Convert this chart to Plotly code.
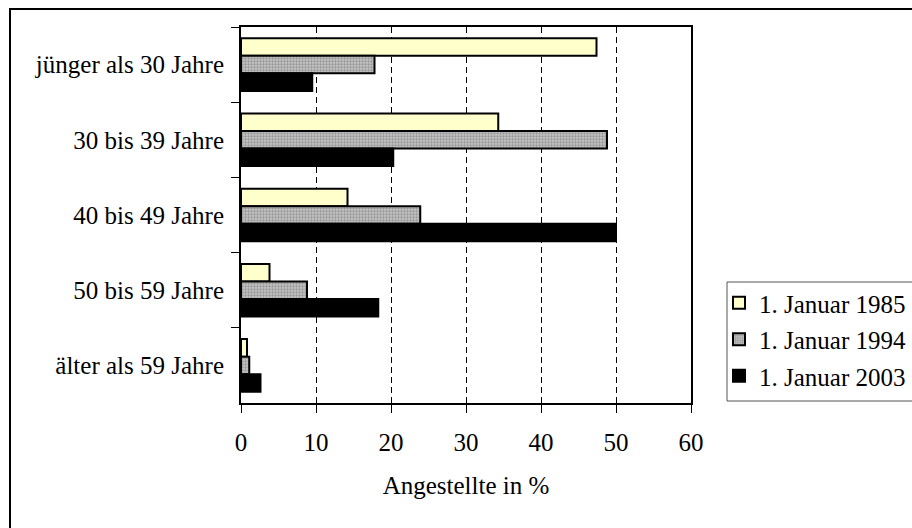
import plotly.graph_objects as go

categories = ["jünger als 30 Jahre", "30 bis 39 Jahre", "40 bis 49 Jahre",
              "50 bis 59 Jahre", "älter als 59 Jahre"]
series_names = ["1. Januar 1985", "1. Januar 1994", "1. Januar 2003"]
values_1985 = [47.4, 34.3, 14.2, 3.8, 0.8]
values_1994 = [17.8, 48.8, 23.9, 8.8, 1.1]
values_2003 = [9.5, 20.3, 50.0, 18.3, 2.6]
x_ticks = [0, 10, 20, 30, 40, 50, 60]

FONT = "Liberation Serif, Times New Roman, serif"
FS = 25
W, H = 912, 528
L, R, T, B = 241, 221, 27, 125
PW, PH = W - L - R, H - T - B


def px_x(p):
    return (p - L) / PW


def px_y(p):
    return 1 - (p - T) / PH


fig = go.Figure()
styles = [
    dict(color="#FFFFCC"),
    dict(color="#A0A0A0", pattern=dict(shape=".", fgcolor="#6a6a6a", bgcolor="#c4c4c4", size=3, solidity=0.45)),
    dict(color="#000000"),
]
for i, (name, vals) in enumerate(zip(series_names, [values_1985, values_1994, values_2003])):
    st = styles[i]
    marker = dict(color=st["color"], line=dict(color="#000000", width=2))
    if "pattern" in st:
        marker["pattern"] = st["pattern"]
    fig.add_trace(go.Bar(
        y=categories, x=vals, orientation="h", name=name,
        marker=marker, legendgroup=f"g{i}",
    ))

fig.update_layout(
    width=W, height=H,
    margin=dict(l=L, r=R, t=T, b=B, autoexpand=False),
    paper_bgcolor="white", plot_bgcolor="white",
    font=dict(family=FONT, size=FS, color="black"),
    barmode="group", bargap=0.30, bargroupgap=0,
    showlegend=True,
    legend=dict(
        x=px_x(719), xanchor="left", y=px_y(280), yanchor="top",
        bgcolor="rgba(0,0,0,0)", borderwidth=0,
        font=dict(family=FONT, size=FS, color="black"),
        tracegroupgap=1, itemwidth=30,
    ),
    xaxis=dict(
        range=[0, 60], tickvals=x_ticks, ticktext=[str(v) for v in x_ticks],
        showgrid=True, gridcolor="black", gridwidth=1, griddash="6px,4px",
        showline=True, linecolor="black", linewidth=2, mirror=True,
        ticks="outside", ticklen=8, tickcolor="black", tickwidth=1,
        ticklabelstandoff=8, zeroline=False,
        title=dict(text="Angestellte in %", standoff=21,
                   font=dict(family=FONT, size=FS)),
    ),
    yaxis=dict(
        categoryorder="array", categoryarray=categories, autorange="reversed",
        showline=True, linecolor="black", linewidth=2, mirror=True,
        ticks="outside", ticklen=8, tickcolor="black", tickwidth=1,
        tickson="boundaries", showgrid=False, ticklabelstandoff=10,
    ),
    shapes=[
        # outer chart border (extends past the window edges)
        dict(type="rect", xref="paper", yref="paper",
             x0=px_x(10), x1=px_x(W + 20), y0=px_y(H + 20), y1=px_y(9),
             line=dict(color="black", width=2), fillcolor="rgba(0,0,0,0)", layer="below"),
        # legend box
        dict(type="rect", xref="paper", yref="paper",
             x0=px_x(727), x1=px_x(W + 20), y0=px_y(401), y1=px_y(282),
             line=dict(color="#555555", width=1), fillcolor="rgba(0,0,0,0)"),
    ],
)

fig.write_html("out.html")
